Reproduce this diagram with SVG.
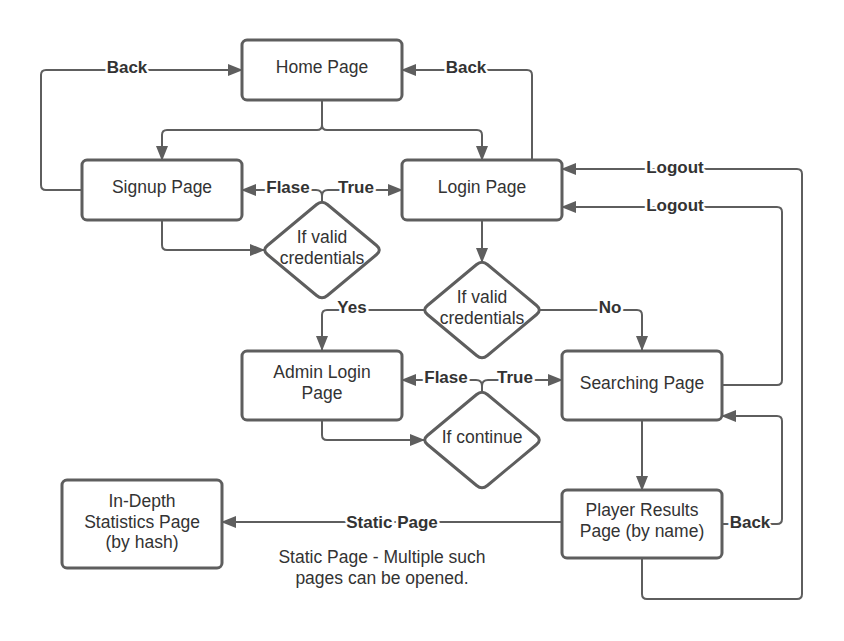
<svg xmlns="http://www.w3.org/2000/svg" width="844" height="641" viewBox="0 0 844 641">
<defs>
<marker id="ah" markerWidth="15" markerHeight="12" refX="14" refY="6" orient="auto" markerUnits="userSpaceOnUse"><path d="M0,0 L15,6 L0,12 z" fill="#5e5e5e"/></marker>
<style>
.box{fill:#fff;stroke:#5e5e5e;stroke-width:3}
.dia{fill:#fff;stroke:#5e5e5e;stroke-width:3;stroke-linejoin:round}
.t{font-family:"Liberation Sans",Arial,sans-serif;font-size:17.5px;fill:#333;text-anchor:middle}
.c{fill:none;stroke:#5e5e5e;stroke-width:2}
.ca{fill:none;stroke:#5e5e5e;stroke-width:2;marker-end:url(#ah)}
.l{font-family:"Liberation Sans",Arial,sans-serif;font-size:17px;font-weight:bold;fill:#333;text-anchor:middle;stroke:#fff;stroke-width:5;paint-order:stroke;stroke-linejoin:round}
</style>
</defs>
<rect width="844" height="641" fill="#fff"/>
<g id="connectors">
<path class="ca" d="M322,100 V125 Q322,130 317,130 H167 Q162,130 162,135 V160"/>
<path class="ca" d="M322,125 Q322,130 327,130 H477 Q482,130 482,135 V160"/>
<path class="ca" d="M82,190 H46 Q41,190 41,185 V75 Q41,70 46,70 H242"/>
<path class="ca" d="M532,160 V75 Q532,70 527,70 H402"/>
<path class="ca" d="M162,220 V245 Q162,250 167,250 H264"/>
<path class="ca" d="M322,202 V196 Q322,190 316,190 H242"/>
<path class="ca" d="M322,196 Q322,190 328,190 H402"/>
<path class="ca" d="M482,220 V262"/>
<path class="ca" d="M425,310 H327 Q322,310 322,315 V350"/>
<path class="ca" d="M539,310 H637 Q642,310 642,315 V350"/>
<path class="ca" d="M322,420 V435 Q322,440 327,440 H424"/>
<path class="ca" d="M482,392 V386 Q482,380 476,380 H402"/>
<path class="ca" d="M482,386 Q482,380 488,380 H562"/>
<path class="ca" d="M642,420 V490"/>
<path class="ca" d="M722,385 H777 Q782,385 782,380 V212 Q782,207 777,207 H562"/>
<path class="ca" d="M642,558 V594 Q642,599 647,599 H797 Q802,599 802,594 V174 Q802,169 797,169 H562"/>
<path class="ca" d="M722,524 H777 Q782,524 782,519 V421 Q782,416 777,416 H722"/>
<path class="ca" d="M562,522 H222"/>
<text class="l" x="127" y="73">Back</text>
<text class="l" x="466" y="73">Back</text>
<text class="l" x="288" y="193">Flase</text>
<text class="l" x="356" y="193">True</text>
<text class="l" x="675" y="173">Logout</text>
<text class="l" x="675" y="211">Logout</text>
<text class="l" x="352" y="313">Yes</text>
<text class="l" x="610" y="313">No</text>
<text class="l" x="446" y="383">Flase</text>
<text class="l" x="515" y="383">True</text>
<text class="l" x="750" y="528">Back</text>
<text class="l" x="392" y="528">Static Page</text>
</g>
<g id="home"><rect class="box" x="242" y="40" width="160" height="60" rx="5"/><text class="t" x="322" y="73">Home Page</text></g>
<g id="signup"><rect class="box" x="82" y="160" width="160" height="60" rx="5"/><text class="t" x="162" y="193">Signup Page</text></g>
<g id="login"><rect class="box" x="402" y="160" width="160" height="60" rx="5"/><text class="t" x="482" y="193">Login Page</text></g>
<g id="valid1"><path class="dia" d="M327.4,204.5 L376.6,245.5 Q382,250 376.6,254.5 L327.4,295.5 Q322,300 316.6,295.5 L267.4,254.5 Q262,250 267.4,245.5 L316.6,204.5 Q322,200 327.4,204.5 Z"/><text class="t" x="322" y="243">If valid</text><text class="t" x="322" y="264">credentials</text></g>
<g id="valid2"><path class="dia" d="M487.4,264.5 L536.6,305.5 Q542,310 536.6,314.5 L487.4,355.5 Q482,360 476.6,355.5 L427.4,314.5 Q422,310 427.4,305.5 L476.6,264.5 Q482,260 487.4,264.5 Z"/><text class="t" x="482" y="303">If valid</text><text class="t" x="482" y="324">credentials</text></g>
<g id="admin"><rect class="box" x="242" y="351" width="160" height="69" rx="5"/><text class="t" x="322" y="378">Admin Login</text><text class="t" x="322" y="399">Page</text></g>
<g id="searching"><rect class="box" x="562" y="351" width="160" height="69" rx="5"/><text class="t" x="642" y="389">Searching Page</text></g>
<g id="continue"><path class="dia" d="M487.4,394.5 L536.6,435.5 Q542,440 536.6,444.5 L487.4,485.5 Q482,490 476.6,485.5 L427.4,444.5 Q422,440 427.4,435.5 L476.6,394.5 Q482,390 487.4,394.5 Z"/><text class="t" x="482" y="443">If continue</text></g>
<g id="player"><rect class="box" x="562" y="490" width="160" height="68" rx="5"/><text class="t" x="642" y="516">Player Results</text><text class="t" x="642" y="537">Page (by name)</text></g>
<g id="indepth"><rect class="box" x="62" y="480" width="160" height="88" rx="5"/><text class="t" x="142" y="507">In-Depth</text><text class="t" x="142" y="528">Statistics Page</text><text class="t" x="142" y="548">(by hash)</text></g>
<g id="note"><text class="t" x="382" y="563">Static Page - Multiple such</text><text class="t" x="382" y="584">pages can be opened.</text></g>
</svg>
